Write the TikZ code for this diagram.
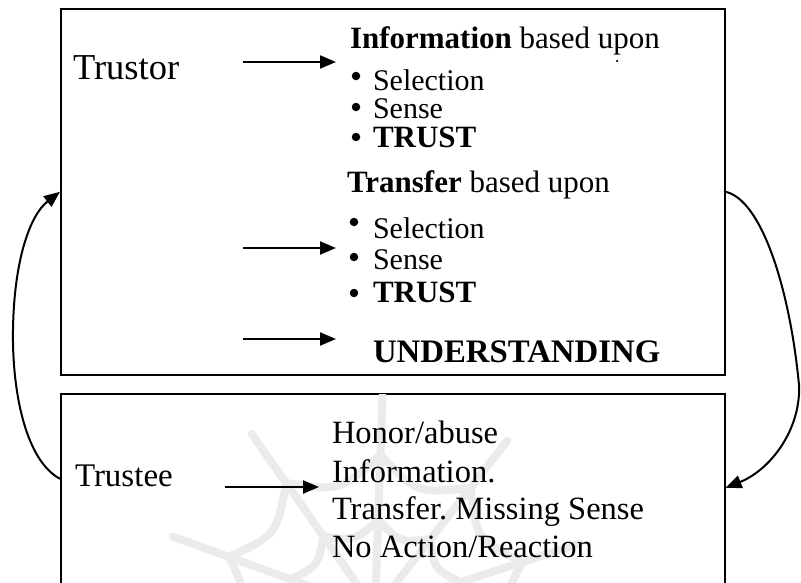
\documentclass[tikz,border=0pt]{standalone}
\usepackage{fontspec}
\setmainfont{Liberation Serif}
\usetikzlibrary{arrows.meta}
\frenchspacing
\newcommand{\fsz}[1]{\fontsize{#1}{#1}\selectfont}
\tikzset{
  boxnode/.style={draw, line width=1.6pt, inner sep=0pt, anchor=north west},
  txt/.style={anchor=base west, inner sep=0pt, outer sep=0pt, font=\fsz{31}},
  bul/.style={circle, fill, inner sep=0pt, minimum size=8.5pt},
  arr/.style={line width=2.2pt, -{Triangle[length=16pt,width=13pt]}},
  curv/.style={line width=2pt, -{Triangle[length=16pt,width=13pt]}},
  web/.style={draw=gray!16, line width=8pt, line cap=round}
}
\begin{document}
\begin{tikzpicture}[x=1pt,y=-1pt]
\useasboundingbox (0,0) rectangle (801,582);

% boxes
\node[boxnode, minimum width=664pt, minimum height=366pt] (trustorbox) at (60,8) {};
\node[boxnode, minimum width=664pt, minimum height=207pt] (trusteebox) at (60,393) {};

% faint watermark
\begin{scope}
\clip (61,394) rectangle (723,600);
\begin{scope}[shift={(375,610)}, yscale=-1]
  \foreach \a in {18,52,88,125,160} { \draw[web] (0,0) -- (\a:215); }
  \foreach \r in {90,155} {
    \foreach \a/\b in {-15/18, 18/52, 52/88, 88/125, 125/160, 160/195} {
      \draw[web] (\a:\r) .. controls ({(\a+\b)/2}:{\r*0.8}) .. (\b:\r);
    }
  }
\end{scope}
\end{scope}

% top box texts
\node[txt, font=\fsz{36.5}] (trustor) at (73,79) {Trustor};
\node[txt] (info) at (350,48) {\textbf{Information} based upon};
\node[circle, fill, inner sep=0pt, minimum size=2.5pt] (dot) at (617,61) {};
\node[bul] (b1) at (356,76) {};
\node[txt, font=\fsz{30}] (s1) at (373,90) {Selection};
\node[bul] (b2) at (356,107) {};
\node[txt, font=\fsz{30}] (s2) at (373,118) {Sense};
\node[bul] (b3) at (356,137) {};
\node[txt] (t1) at (373,147) {\textbf{TRUST}};

\node[txt] (transfer) at (347,192) {\textbf{Transfer} based upon};
\node[bul] (b4) at (354,222) {};
\node[txt, font=\fsz{30}] (s3) at (373,238) {Selection};
\node[bul] (b5) at (354,257) {};
\node[txt, font=\fsz{30}] (s4) at (373,269) {Sense};
\node[bul] (b6) at (354,293) {};
\node[txt] (t2) at (373,302) {\textbf{TRUST}};
\node[txt, font=\fsz{32.8}] (und) at (373,362) {\textbf{UNDERSTANDING}};

% bottom box texts
\node[txt, font=\fsz{33}] (trustee) at (75,486) {Trustee};
\node[txt, font=\fsz{32.5}] (h1) at (332,443) {Honor/abuse};
\node[txt, font=\fsz{32.5}] (h2) at (332,482) {Information.};
\node[txt, font=\fsz{32.5}] (h3) at (332,519) {Transfer. Missing Sense};
\node[txt, font=\fsz{32.5}] (h4) at (332,557) {No Action/Reaction};

% straight arrows
\coordinate (a1s) at (243,62);  \coordinate (a1e) at (336,62);
\coordinate (a2s) at (243,248); \coordinate (a2e) at (336,248);
\coordinate (a3s) at (243,339); \coordinate (a3e) at (336,339);
\coordinate (a4s) at (225,487); \coordinate (a4e) at (319,487);
\draw[arr] (a1s) -- (a1e);
\draw[arr] (a2s) -- (a2e);
\draw[arr] (a3s) -- (a3e);
\draw[arr] (a4s) -- (a4e);

% curved connectors
\draw[curv] (trustorbox.east) .. controls (762,200) and (790,290) .. (799,385)
  .. controls (801,430) and (770,470) .. ([yshift=9.5pt]trusteebox.east);
\draw[curv] ([yshift=18.5pt]trusteebox.west) .. controls (25,460) and (12,390) .. (13,330)
  .. controls (14,260) and (30,215) .. (trustorbox.west);
\end{tikzpicture}
\end{document}
